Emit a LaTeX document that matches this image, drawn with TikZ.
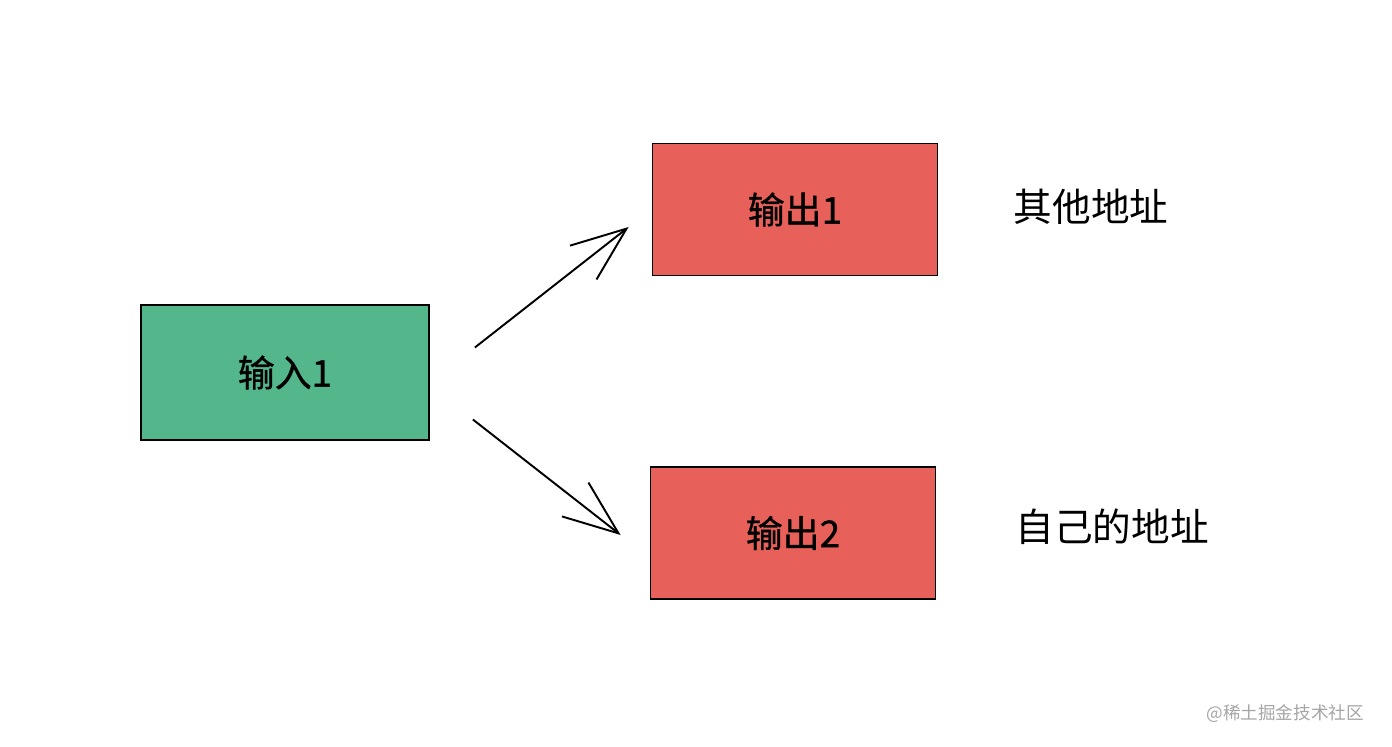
\documentclass[tikz,border=0pt]{standalone}
\usepackage{fontspec}
\setmainfont{Noto Sans CJK SC}
\newfontfamily\boxfont{Noto Sans CJK SC}[FakeBold=0.9]
\usetikzlibrary{arrows.meta}
\definecolor{ingreen}{RGB}{84,182,139}
\definecolor{outred}{RGB}{232,96,90}
\definecolor{markgrey}{RGB}{165,165,165}
\begin{document}
\begin{tikzpicture}[
    box/.style={rectangle, draw, line width=1pt, minimum width=5.7cm, minimum height=2.64cm, font=\boxfont\fontsize{21}{24}\selectfont},
    note/.style={font=\fontsize{22}{26}\selectfont},
    flow/.style={line width=1.1pt, -{Straight Barb[length=1.1cm, width=0.86cm, line width=1.1pt]}}
  ]

    \useasboundingbox (0,0) rectangle (27.84,14.92);

    \node[box, fill=ingreen, minimum width=5.76cm, minimum height=2.7cm] at (5.70,7.47) (in) {输入1};
    \node[box, fill=outred] at (15.90,10.73) (out1) {输出1};
    \node[box, fill=outred] at (15.86,4.26) (out2) {输出2};

    \node[note] at (21.82,10.78) (other) {其他地址};
    \node[note] at (22.24,4.38) (self) {自己的地址};

    \draw[flow] ([shift={(0.9,0.5)}] in.east) -- ([shift={(-0.46,-0.35)}] out1.west);
    \draw[flow] ([shift={(0.86,-0.94)}] in.east) -- ([shift={(-0.58,-0.04)}] out2.west);

    \node[anchor=east, text=markgrey, font=\fontsize{10}{12}\selectfont] at (27.40,0.64) (mark) {@稀土掘金技术社区};
  \end{tikzpicture}
\end{document}
